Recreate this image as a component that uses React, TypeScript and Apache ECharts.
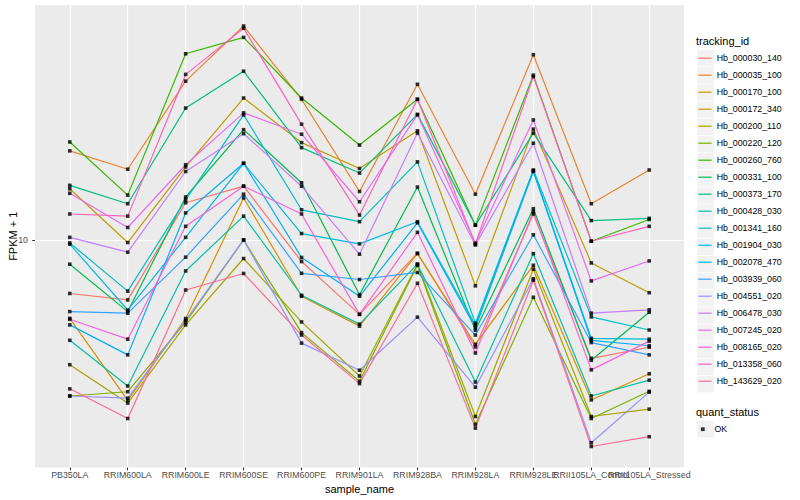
import React, { useEffect, useRef } from "react";
import * as echarts from "echarts";

const sampleNames = [
  "PB350LA", "RRIM600LA", "RRIM600LE", "RRIM600SE", "RRIM600PE", "RRIM901LA",
  "RRIM928BA", "RRIM928LA", "RRIM928LE", "RRII105LA_Control", "RRII105LA_Stressed",
];

const trackingIds = [
  "Hb_000030_140", "Hb_000035_100", "Hb_000170_100", "Hb_000172_340", "Hb_000200_110",
  "Hb_000220_120", "Hb_000260_760", "Hb_000331_100", "Hb_000373_170", "Hb_000428_030",
  "Hb_001341_160", "Hb_001904_030", "Hb_002078_470", "Hb_003939_060", "Hb_004551_020",
  "Hb_006478_030", "Hb_007245_020", "Hb_008165_020", "Hb_013358_060", "Hb_143629_020",
];

const trackingColors = [
  "#F8766D", "#EA8331", "#D89000", "#C09B00", "#A3A500",
  "#7CAE00", "#39B600", "#00BB4E", "#00BF7D", "#00C1A3",
  "#00BFC4", "#00BAE0", "#00B0F6", "#35A2FF", "#9590FF",
  "#C77CFF", "#E76BF3", "#FA62DB", "#FF62BC", "#FF6C91",
];

// FPKM + 1 per sample (order of sampleNames)
const hb_000030_140 = [6.63, 6.31, 13.3, 15.1, 8.47, 5.65, 9.03, 4.40, 12.2, 4.03, 4.39];
const hb_000035_100 = [19.8, 17.2, 33.8, 51.6, 29.4, 14.5, 33.0, 14.2, 41.4, 13.2, 17.1];
const hb_000170_100 = [5.48, 2.92, 5.47, 13.8, 6.49, 5.16, 9.00, 4.49, 8.23, 2.93, 3.58];
const hb_000172_340 = [14.8, 9.80, 17.5, 29.7, 21.1, 17.3, 23.1, 7.03, 23.4, 8.38, 6.67];
const hb_000200_110 = [3.84, 2.86, 5.21, 8.67, 5.33, 3.52, 8.30, 2.58, 7.99, 2.58, 2.73];
const hb_000220_120 = [3.02, 3.12, 5.32, 10.0, 4.91, 3.38, 8.23, 2.43, 6.44, 2.54, 3.13];
const hb_000260_760 = [21.2, 14.1, 41.7, 47.3, 29.7, 20.7, 29.4, 11.2, 35.4, 9.90, 11.7];
const hb_000331_100 = [8.30, 5.77, 13.9, 23.3, 15.5, 6.57, 15.0, 5.00, 12.7, 3.97, 5.74];
const hb_000373_170 = [15.2, 13.2, 27.5, 36.5, 20.3, 16.7, 26.2, 11.2, 22.7, 11.6, 11.8];
const hb_000428_030 = [4.63, 3.26, 7.88, 12.0, 6.54, 5.24, 8.30, 3.36, 9.00, 3.02, 3.41];
const hb_001341_160 = [9.77, 6.75, 13.6, 26.1, 12.6, 11.5, 18.2, 5.28, 17.1, 5.54, 5.01];
const hb_001904_030 = [9.68, 5.84, 10.2, 18.0, 10.5, 9.70, 11.5, 5.20, 17.0, 4.70, 4.67];
const hb_002078_470 = [5.21, 4.14, 12.3, 18.0, 8.74, 6.49, 11.4, 5.10, 16.9, 4.63, 4.44];
const hb_003939_060 = [5.77, 5.70, 8.76, 14.2, 7.74, 7.38, 7.79, 4.82, 10.4, 4.55, 4.14];
const hb_004551_020 = [3.02, 2.97, 5.40, 10.0, 4.53, 3.68, 5.53, 3.23, 7.42, 2.11, 3.11];
const hb_006478_030 = [10.2, 9.10, 16.9, 22.6, 15.1, 8.96, 22.7, 9.62, 21.0, 5.70, 5.85];
const hb_007245_020 = [14.3, 11.0, 17.8, 26.5, 22.5, 13.4, 26.1, 9.75, 25.1, 7.30, 8.51];
const hb_008165_020 = [5.44, 4.67, 11.1, 15.1, 12.2, 5.65, 10.6, 4.20, 12.4, 3.69, 4.60];
const hb_013358_060 = [12.2, 12.0, 35.6, 50.7, 24.3, 12.1, 29.4, 9.68, 35.0, 9.90, 11.1];
const hb_143629_020 = [3.19, 2.54, 6.81, 7.73, 4.82, 3.32, 7.17, 2.36, 7.34, 2.05, 2.21];

const seriesValues = [
  hb_000030_140, hb_000035_100, hb_000170_100, hb_000172_340, hb_000200_110,
  hb_000220_120, hb_000260_760, hb_000331_100, hb_000373_170, hb_000428_030,
  hb_001341_160, hb_001904_030, hb_002078_470, hb_003939_060, hb_004551_020,
  hb_006478_030, hb_007245_020, hb_008165_020, hb_013358_060, hb_143629_020,
];

const yTickValues = [10];
const quantStatus = ["OK"];

const FONT = "'Liberation Sans', Arial, Helvetica, sans-serif";

export default function App() {
  const ref = useRef<HTMLDivElement | null>(null);

  useEffect(() => {
    if (!ref.current) return;
    const chart = echarts.init(ref.current, undefined, { renderer: "svg" });

    const logs: number[] = [];
    seriesValues.forEach((arr) => arr.forEach((v) => logs.push(Math.log10(v))));
    const lo = Math.min(...logs);
    const hi = Math.max(...logs);
    const pad = (hi - lo) * 0.05;
    const yMin = lo - pad;
    const yMax = hi + pad;

    const xMin = 0.4;
    const xMax = sampleNames.length + 0.6;
    const xPositions = sampleNames.map((_, i) => i + 1);
    // trailing empty label at the axis end so that no real label is treated as the "max label"
    const xLabelValues = [...xPositions, xMax];
    const yTicks = yTickValues.map((t) => Math.log10(t));

    const lineSeries = trackingIds.map((id, i) => ({
      type: "line",
      name: id,
      data: seriesValues[i].map((v, j) => [j + 1, Math.log10(v)]),
      showSymbol: false,
      symbol: "none",
      silent: true,
      z: 2,
      lineStyle: { width: 1.2, color: trackingColors[i] },
      itemStyle: { color: trackingColors[i] },
    }));

    const pointData: number[][] = [];
    seriesValues.forEach((arr) => arr.forEach((v, j) => pointData.push([j + 1, Math.log10(v)])));

    const rowH = 17.15;
    const keyTop = 49.7;
    const keyRects: any[] = trackingIds.map((_, i) => ({
      type: "rect",
      shape: { x: 697, y: keyTop + i * rowH, width: 17.3, height: rowH },
      style: { fill: "#F2F2F2", stroke: "#FFFFFF", lineWidth: 0.6 },
      silent: true,
    }));
    keyRects.push({
      type: "rect",
      shape: { x: 697, y: 420.7, width: 17.3, height: rowH },
      style: { fill: "#F2F2F2", stroke: "#FFFFFF", lineWidth: 0.6 },
      silent: true,
    });

    chart.setOption({
      animation: false,
      backgroundColor: "#FFFFFF",
      textStyle: { fontFamily: FONT },
      title: [
        { text: "tracking_id", left: 696, top: 35.5, padding: 0,
          textStyle: { fontSize: 11, fontWeight: "normal", color: "#000", fontFamily: FONT } },
        { text: "quant_status", left: 696, top: 406, padding: 0,
          textStyle: { fontSize: 11, fontWeight: "normal", color: "#000", fontFamily: FONT } },
      ],
      grid: {
        left: 35, right: 116, top: 5, bottom: 32.5,
        show: true, backgroundColor: "#EBEBEB", borderWidth: 0,
        outerBoundsMode: "none",
      },
      xAxis: {
        type: "value",
        min: xMin,
        max: xMax,
        name: "sample_name",
        nameLocation: "middle",
        nameGap: 15.5,
        nameMoveOverlap: false,
        nameTextStyle: { fontSize: 11, color: "#000", fontFamily: FONT },
        axisLine: { show: false },
        axisTick: { show: true, length: 2.75, customValues: xPositions,
          lineStyle: { color: "#333333", width: 1.07 } },
        axisLabel: {
          customValues: xLabelValues,
          margin: 3,
          fontSize: 8.8,
          color: "#4D4D4D",
          fontFamily: FONT,
          hideOverlap: false,
          showMinLabel: true,
          showMaxLabel: false,
          formatter: (v: number) => {
            const k = Math.round(v);
            return Math.abs(v - k) < 1e-6 ? sampleNames[k - 1] ?? "" : "";
          },
        },
        splitLine: { show: true, lineStyle: { color: "#FFFFFF", width: 1.2 } },
      },
      yAxis: {
        type: "value",
        min: yMin,
        max: yMax,
        name: "FPKM + 1",
        nameLocation: "middle",
        nameGap: 17,
        nameRotate: 90,
        nameMoveOverlap: false,
        nameTextStyle: { fontSize: 11, color: "#000", fontFamily: FONT },
        axisLine: { show: false },
        axisTick: { show: true, length: 2.75, customValues: yTicks,
          lineStyle: { color: "#333333", width: 1.07 } },
        axisLabel: {
          customValues: yTicks,
          margin: 7,
          fontSize: 8.8,
          color: "#4D4D4D",
          fontFamily: FONT,
          showMinLabel: true,
          showMaxLabel: true,
          formatter: (v: number) => String(Math.round(Math.pow(10, v))),
        },
        splitLine: { show: true, lineStyle: { color: "#FFFFFF", width: 1.2 } },
      },
      legend: [
        {
          data: trackingIds,
          orient: "vertical",
          left: 698.3,
          top: 53.7,
          padding: 0,
          itemGap: 8,
          itemWidth: 13.4,
          itemHeight: 9,
          icon: "path://M0 0H13.4V1.2H0Z",
          selectedMode: false,
          textStyle: { fontSize: 8.8, color: "#000", fontFamily: FONT },
        },
        {
          data: quantStatus,
          orient: "vertical",
          left: 698.3,
          top: 424.7,
          padding: 0,
          itemWidth: 13.4,
          itemHeight: 9,
          icon: "path://M0 0M9 9M2.6 2.6H6.4V6.4H2.6Z",
          selectedMode: false,
          textStyle: { fontSize: 8.8, color: "#000", fontFamily: FONT },
        },
      ],
      graphic: keyRects,
      series: [
        ...lineSeries,
        {
          type: "scatter",
          name: quantStatus[0],
          data: pointData,
          symbol: "rect",
          symbolSize: 3.6,
          silent: true,
          z: 3,
          itemStyle: { color: "#000000" },
        },
      ],
    });

    return () => chart.dispose();
  }, []);

  return (
    <div
      ref={ref}
      style={{ position: "absolute", left: 0, top: 0, width: 800, height: 500 }}
    />
  );
}
